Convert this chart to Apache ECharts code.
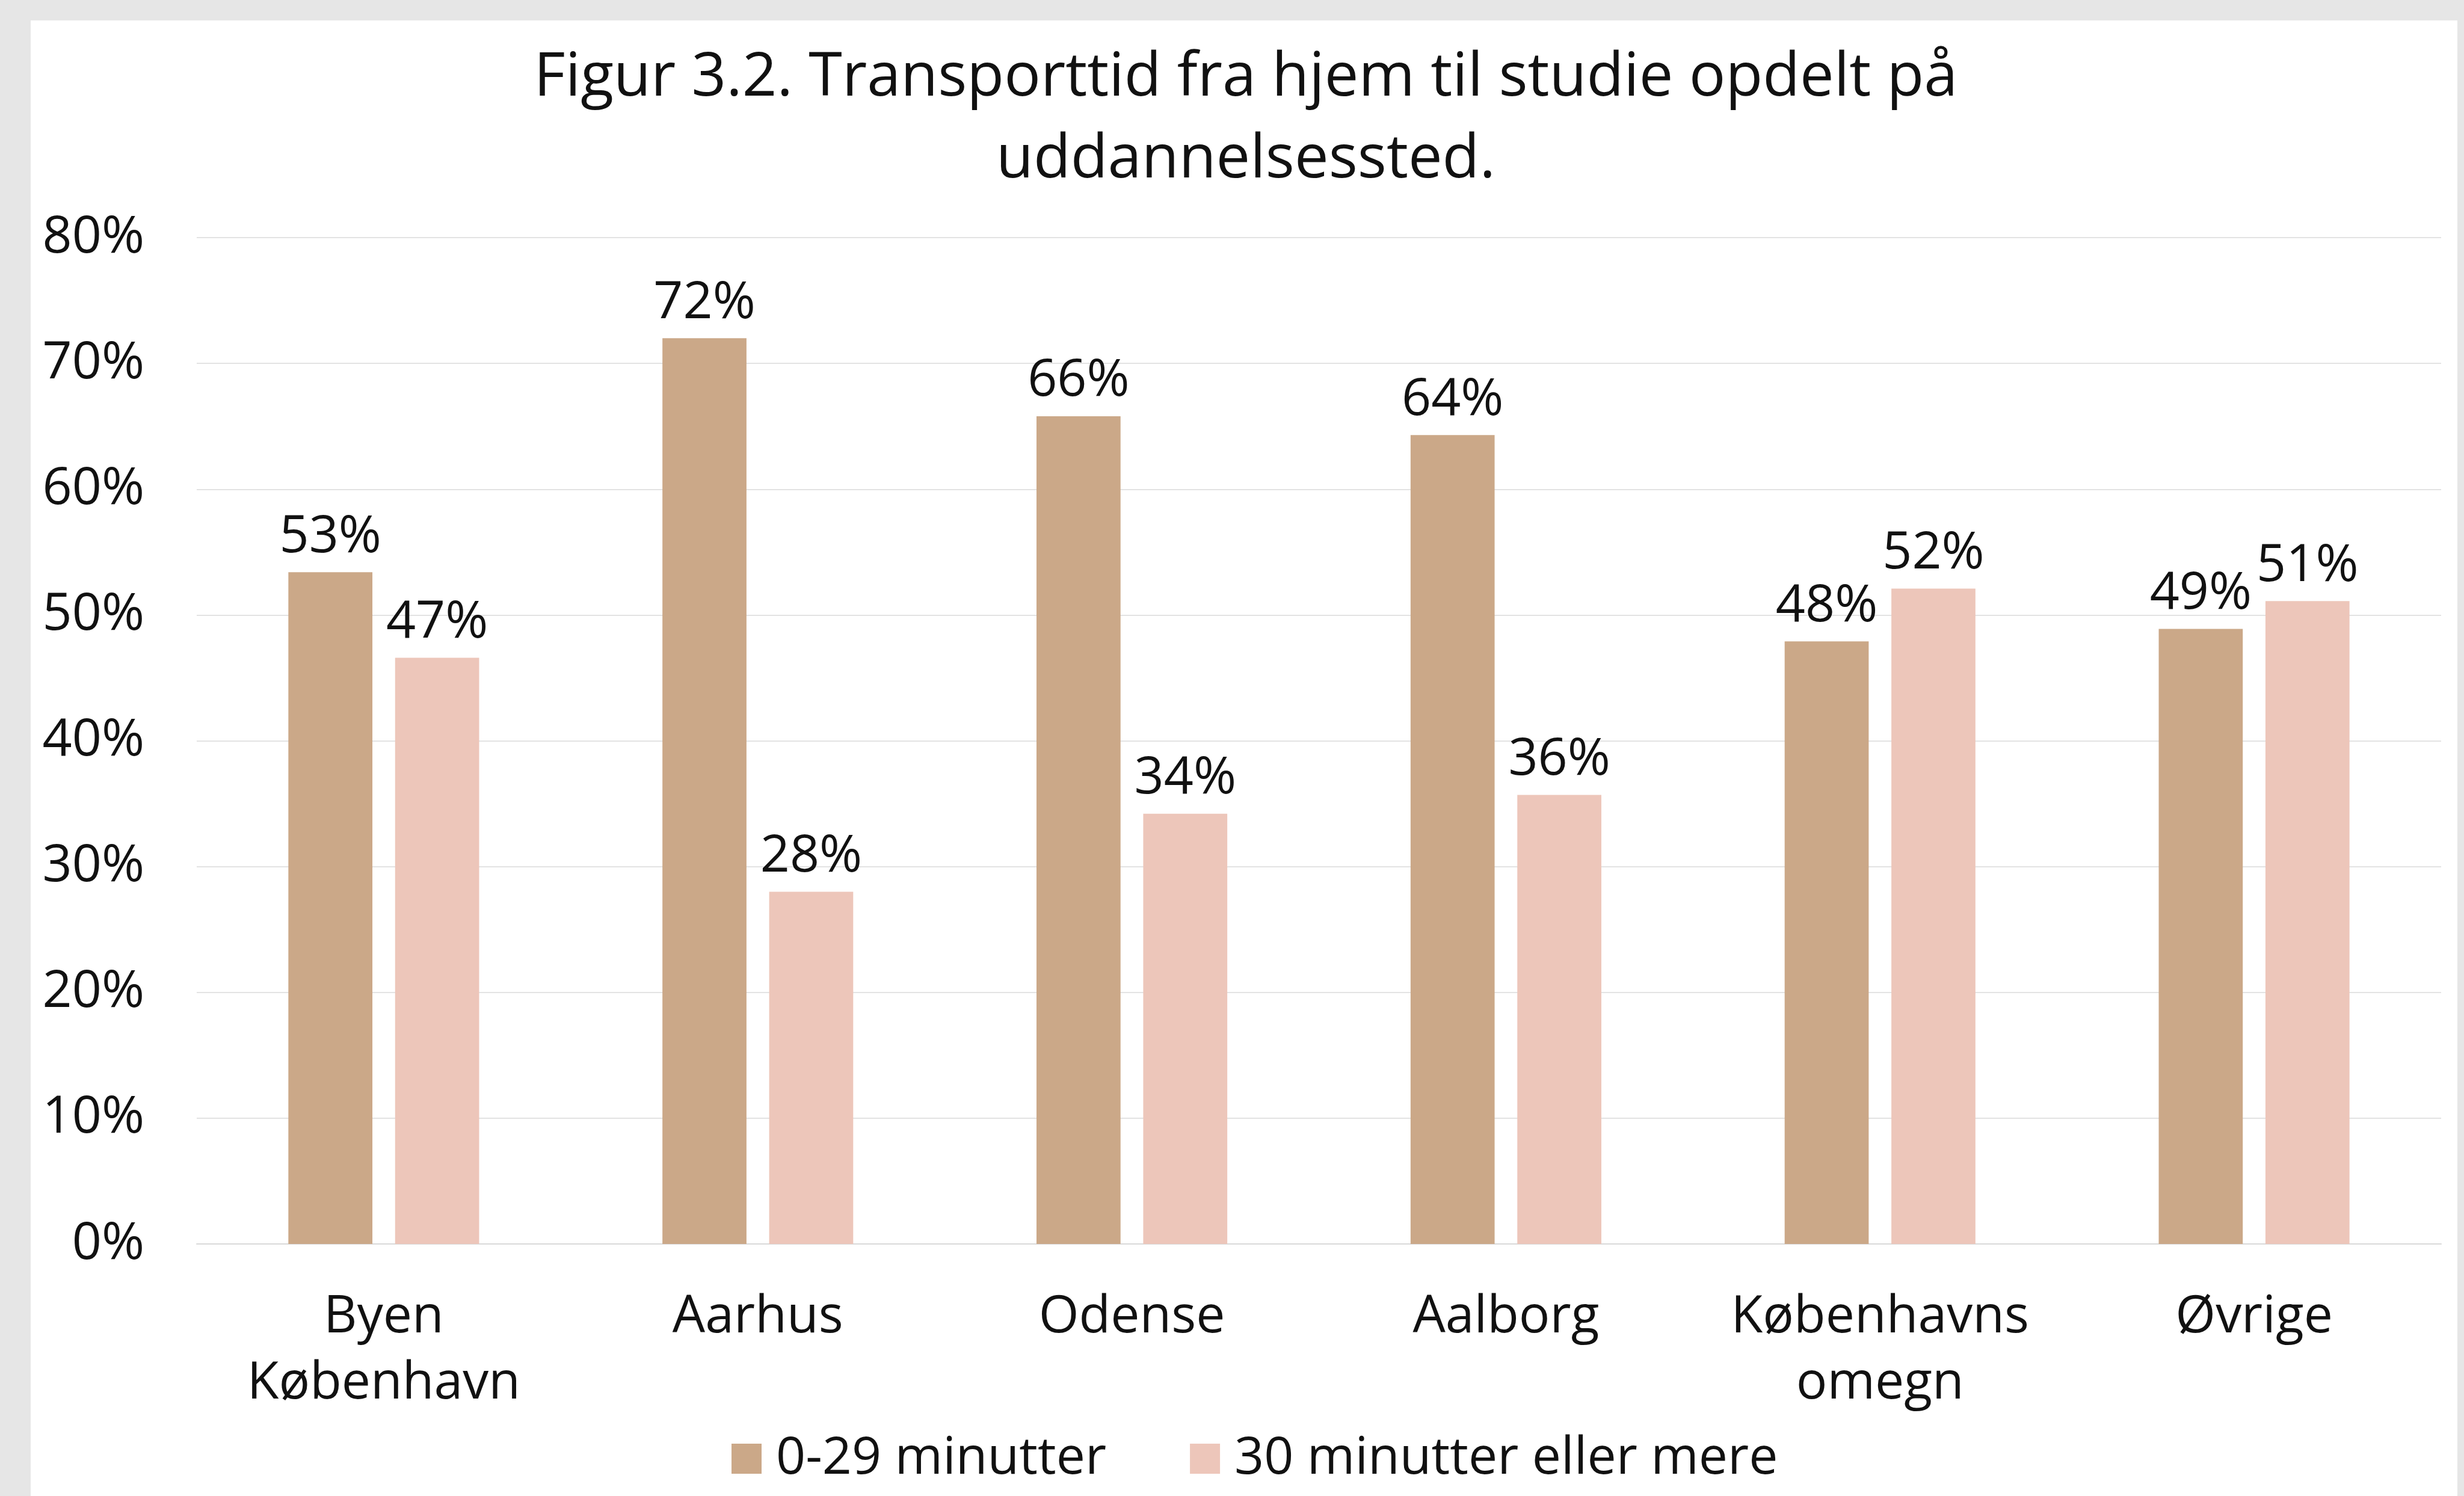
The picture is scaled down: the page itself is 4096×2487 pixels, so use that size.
<!DOCTYPE html>
<html>
<head>
<meta charset="utf-8">
<script src="https://cdn.jsdelivr.net/npm/echarts@6/dist/echarts.min.js"></script>
<style>
  html, body { margin: 0; padding: 0; width: 4096px; height: 2487px; overflow: hidden; background: #e6e6e6; }
  #panel { position: absolute; left: 51px; top: 34px; width: 4034px; height: 2453px; background: #ffffff; }
  #chart { position: absolute; left: 0; top: 0; width: 4096px; height: 2487px; }
</style>
</head>
<body>
<div id="panel"></div>
<div id="chart"></div>
<script>
  const categories = ['Byen\nKøbenhavn', 'Aarhus', 'Odense', 'Aalborg', 'Københavns\nomegn', 'Øvrige'];
  const shortTrip = [53.4, 72.0, 65.8, 64.3, 47.9, 48.9];
  const longTrip = [46.6, 28.0, 34.2, 35.7, 52.1, 51.1];
  const seriesNames = ['0-29 minutter', '30 minutter eller mere'];
  const yTicks = { min: 0, max: 80, interval: 10 };

  const font = '"Open Sans", "Noto Sans", sans-serif';
  const textColor = '#111111';
  const chart = echarts.init(document.getElementById('chart'));

  const barLabel = {
    show: true,
    position: 'top',
    distance: 15,
    fontFamily: font,
    fontSize: 86,
    color: textColor,
    formatter: (p) => `${Math.round(p.value)}%`,
  };

  chart.setOption({
    backgroundColor: 'transparent',
    animation: false,
    title: {
      text: 'Figur 3.2. Transporttid fra hjem til studie opdelt på\nuddannelsessted.',
      left: 2066,
      top: 57,
      textAlign: 'center',
      textStyle: {
        fontFamily: font,
        fontSize: 101,
        fontWeight: 'normal',
        color: textColor,
        lineHeight: 136,
      },
    },
    legend: {
      data: seriesNames,
      left: 1211,
      top: 2377,
      itemWidth: 50,
      itemHeight: 50,
      itemGap: 139,
      icon: 'rect',
      textStyle: {
        fontFamily: font,
        fontSize: 86,
        color: textColor,
        padding: [0, 0, 0, 19],
      },
    },
    grid: { left: 327, right: 38, top: 395, bottom: 419 },
    xAxis: {
      type: 'category',
      data: categories,
      axisTick: { show: false },
      axisLine: { lineStyle: { color: '#d9d9d9', width: 2 } },
      axisLabel: {
        interval: 0,
        fontFamily: font,
        fontSize: 86,
        color: textColor,
        margin: 67,
        lineHeight: 110,
      },
    },
    yAxis: {
      type: 'value',
      min: yTicks.min,
      max: yTicks.max,
      interval: yTicks.interval,
      axisLine: { show: false },
      axisTick: { show: false },
      splitLine: { lineStyle: { color: '#e3e3e3', width: 2 } },
      axisLabel: {
        fontFamily: font,
        fontSize: 86,
        color: textColor,
        margin: 87,
        formatter: '{value}%',
      },
    },
    series: [
      {
        name: seriesNames[0],
        type: 'bar',
        data: shortTrip,
        barGap: '27%',
        barCategoryGap: '49%',
        itemStyle: { color: '#cba888' },
        label: barLabel,
      },
      {
        name: seriesNames[1],
        type: 'bar',
        data: longTrip,
        itemStyle: { color: '#edc6ba' },
        label: barLabel,
      },
    ],
  });
</script>
</body>
</html>
